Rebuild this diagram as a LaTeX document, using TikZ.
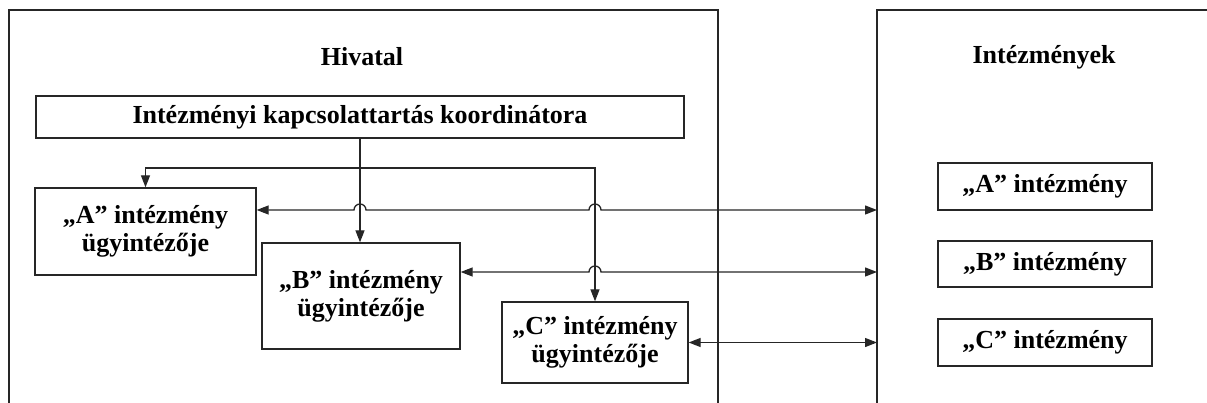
\documentclass[tikz,border=0pt]{standalone}
\usepackage{fontspec}
\setmainfont{Liberation Serif}
\usetikzlibrary{arrows.meta,calc}
\begin{document}
\begin{tikzpicture}[x=1pt,y=-1pt,
  ln/.style={line width=1.3pt, draw=black!85},
  box/.style={ln, rectangle, inner sep=0pt, align=center,
    font=\fontsize{26}{28}\selectfont\bfseries},
  ttl/.style={inner sep=0pt, font=\fontsize{26}{28}\selectfont\bfseries},
  tipone/.style={-{Triangle[length=12pt,width=9pt]}},
  tipboth/.style={{Triangle[length=12pt,width=9pt]}-{Triangle[length=12pt,width=9pt]}}]
\useasboundingbox (0,0) rectangle (1207,403);
% frames
\draw[ln] (9,410) -- (9,10) -- (718,10) -- (718,410);
\draw[ln] (877,410) -- (877,10) -- (1215,10);
\coordinate (IL) at (877,10);
% titles
\node[ttl] (hiv) at (362,57) {Hivatal};
\node[ttl] (intz) at (1044,57) {Intézmények};
% boxes
\node[box, minimum width=648pt, minimum height=42pt] (K) at (360,117) {Intézményi kapcsolattartás koordinátora};
\node[box, minimum width=221pt, minimum height=87pt] (A) at (145.5,231.5) {„A” intézmény\\ügyintézője};
\node[box, minimum width=198pt, minimum height=106pt] (B) at (361,296) {„B” intézmény\\ügyintézője};
\node[box, minimum width=186pt, minimum height=81pt] (C) at (595,342.5) {„C” intézmény\\ügyintézője};
\node[box, minimum width=214pt, minimum height=47pt] (RA) at (1045,186.5) {„A” intézmény};
\node[box, minimum width=214pt, minimum height=46pt] (RB) at (1045,264) {„B” intézmény};
\node[box, minimum width=214pt, minimum height=47pt] (RC) at (1045,342.5) {„C” intézmény};
% levels
\coordinate (yd) at (0,168);
\coordinate (ya) at (0,210);
\coordinate (yb) at (0,272);
% coordinator distribution
\draw[ln,tipone] (K.south) -- (K.south |- B.north);
\draw[ln,tipone] (K.south |- yd) -| (A.north);
\draw[ln,tipone] (K.south |- yd) -| (C.north);
% links to institutions
\draw[ln,tipboth] (A.east |- ya) -- ($(K.south |- ya)+(-6,0)$) arc[start angle=180,end angle=0,radius=6pt]
  -- ($(C.north |- ya)+(-6,0)$) arc[start angle=180,end angle=0,radius=6pt] -- (IL |- ya);
\draw[ln,tipboth] (B.east |- yb) -- ($(C.north |- yb)+(-6,0)$) arc[start angle=180,end angle=0,radius=6pt] -- (IL |- yb);
\draw[ln,tipboth] (C.east) -- (IL |- C.east);
\end{tikzpicture}
\end{document}
